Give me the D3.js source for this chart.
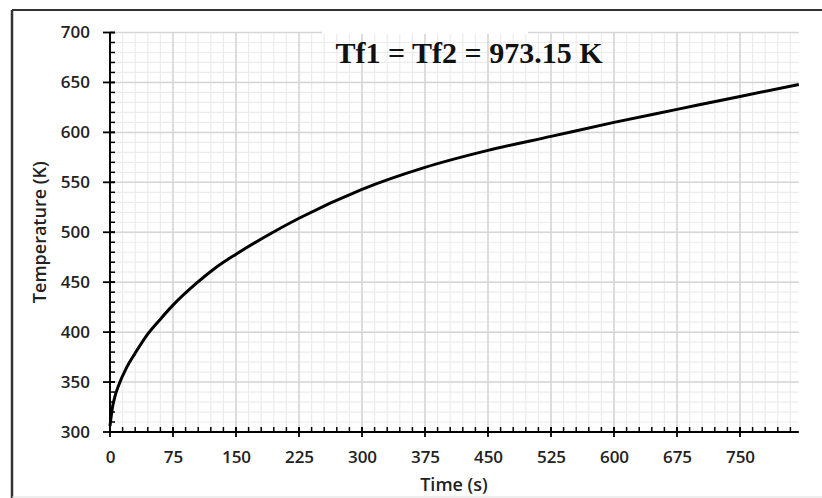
<!DOCTYPE html>
<html>
<head>
<meta charset="utf-8">
<script src="https://cdn.jsdelivr.net/npm/d3@7"></script>
<style>
  body { margin: 0; background: #fff; }
  svg { display: block; }
  .tick text { font-family: "Open Sans", sans-serif; font-weight: 600; font-size: 17px; fill: #222; }
</style>
</head>
<body>
<svg id="canvas" width="822" height="498"></svg>
<script>
// data
const time = [0, 3, 6, 10, 20, 30, 44, 60, 75, 103, 125, 150, 192, 225, 300, 375, 450, 525, 600, 675, 750, 820];
const temperature = [306, 325, 336, 346, 365, 379, 397, 413, 427, 449, 464, 478, 499, 514, 543, 565, 582, 596, 610, 623, 636, 648];

const timeTicks = [0, 75, 150, 225, 300, 375, 450, 525, 600, 675, 750];
const tempTicks = [300, 350, 400, 450, 500, 550, 600, 650, 700];
const timeMinor = d3.range(0, 820, 15);
const tempMinor = d3.range(300, 701, 10);

const titleText = "Tf1 = Tf2 = 973.15 K";

const svg = d3.select("#canvas");

const x = d3.scaleLinear().domain([0, 820]).range([110, 798.8]);
const y = d3.scaleLinear().domain([300, 700]).range([432, 32.5]);

// frame
svg.append("line").attr("x1", 12).attr("x2", 822).attr("y1", 10).attr("y2", 10)
  .attr("stroke", "#333").attr("stroke-width", 2);
svg.append("line").attr("x1", 12).attr("x2", 12).attr("y1", 10).attr("y2", 498)
  .attr("stroke", "#333").attr("stroke-width", 2.5);
svg.append("line").attr("x1", 12).attr("x2", 822).attr("y1", 497).attr("y2", 497)
  .attr("stroke", "#ddd").attr("stroke-width", 1);

// grid
const grid = svg.append("g");
grid.selectAll(".vminor").data(timeMinor).enter().append("line")
  .attr("x1", d => x(d)).attr("x2", d => x(d))
  .attr("y1", y(700)).attr("y2", y(300))
  .attr("stroke", "#ececec").attr("stroke-width", 1.2);
grid.selectAll(".hminor").data(tempMinor).enter().append("line")
  .attr("x1", x(0)).attr("x2", x(820))
  .attr("y1", d => y(d)).attr("y2", d => y(d))
  .attr("stroke", "#ececec").attr("stroke-width", 1.2);
grid.selectAll(".vmajor").data(timeTicks).enter().append("line")
  .attr("x1", d => x(d)).attr("x2", d => x(d))
  .attr("y1", y(700)).attr("y2", y(300))
  .attr("stroke", "#d6d6d6").attr("stroke-width", 1.5);
grid.selectAll(".hmajor").data(tempTicks).enter().append("line")
  .attr("x1", x(0)).attr("x2", x(820))
  .attr("y1", d => y(d)).attr("y2", d => y(d))
  .attr("stroke", "#d6d6d6").attr("stroke-width", 1.5);

// white patch behind title
svg.append("rect").attr("x", 322).attr("y", 28).attr("width", 206).attr("height", 6).attr("fill", "#fff");

// curve
const line = d3.line()
  .x((d, i) => x(time[i]))
  .y(d => y(d))
  .curve(d3.curveMonotoneX);
svg.append("path").datum(temperature)
  .attr("d", line)
  .attr("fill", "none")
  .attr("stroke", "#000")
  .attr("stroke-width", 3);

// axes
const xAxis = svg.append("g").attr("transform", `translate(0,${y(300)})`)
  .call(d3.axisBottom(x).tickValues(timeTicks).tickSize(0).tickPadding(19));
const yAxis = svg.append("g").attr("transform", `translate(${x(0)},0)`)
  .call(d3.axisLeft(y).tickValues(tempTicks).tickSize(0).tickPadding(20));
xAxis.select(".domain").remove();
yAxis.select(".domain").remove();

const ticks = svg.append("g").attr("stroke", "#000");
ticks.selectAll(".xm").data(timeMinor).enter().append("line")
  .attr("x1", d => x(d)).attr("x2", d => x(d))
  .attr("y1", y(300) - 5).attr("y2", y(300)).attr("stroke-width", 1.5);
ticks.selectAll(".xM").data(timeTicks).enter().append("line")
  .attr("x1", d => x(d)).attr("x2", d => x(d))
  .attr("y1", y(300) - 5).attr("y2", y(300) + 5).attr("stroke-width", 1.8);
ticks.selectAll(".ym").data(tempMinor).enter().append("line")
  .attr("x1", x(0)).attr("x2", x(0) + 5)
  .attr("y1", d => y(d)).attr("y2", d => y(d)).attr("stroke-width", 1.5);
ticks.selectAll(".yM").data(tempTicks).enter().append("line")
  .attr("x1", x(0) - 7).attr("x2", x(0) + 5)
  .attr("y1", d => y(d)).attr("y2", d => y(d)).attr("stroke-width", 1.8);
ticks.append("line").attr("x1", x(0)).attr("x2", x(820))
  .attr("y1", y(300)).attr("y2", y(300)).attr("stroke-width", 2);
ticks.append("line").attr("x1", x(0)).attr("x2", x(0))
  .attr("y1", y(700)).attr("y2", y(300)).attr("stroke-width", 2);

// labels
svg.append("text")
  .attr("x", 454).attr("y", 491)
  .attr("text-anchor", "middle")
  .style("font-family", "Open Sans, sans-serif").style("font-weight", 600).style("font-size", "18px")
  .attr("fill", "#222")
  .text("Time (s)");
svg.append("text")
  .attr("transform", `translate(46,${(y(300) + y(700)) / 2}) rotate(-90)`)
  .attr("text-anchor", "middle")
  .style("font-family", "Open Sans, sans-serif").style("font-weight", 600).style("font-size", "18px")
  .attr("fill", "#222")
  .text("Temperature (K)");

svg.append("text")
  .attr("x", 469).attr("y", 63)
  .attr("text-anchor", "middle")
  .style("font-family", "Liberation Serif, Times New Roman, serif").style("font-weight", "bold").style("font-size", "30px")
  .attr("fill", "#111")
  .text(titleText);
</script>
</body>
</html>
